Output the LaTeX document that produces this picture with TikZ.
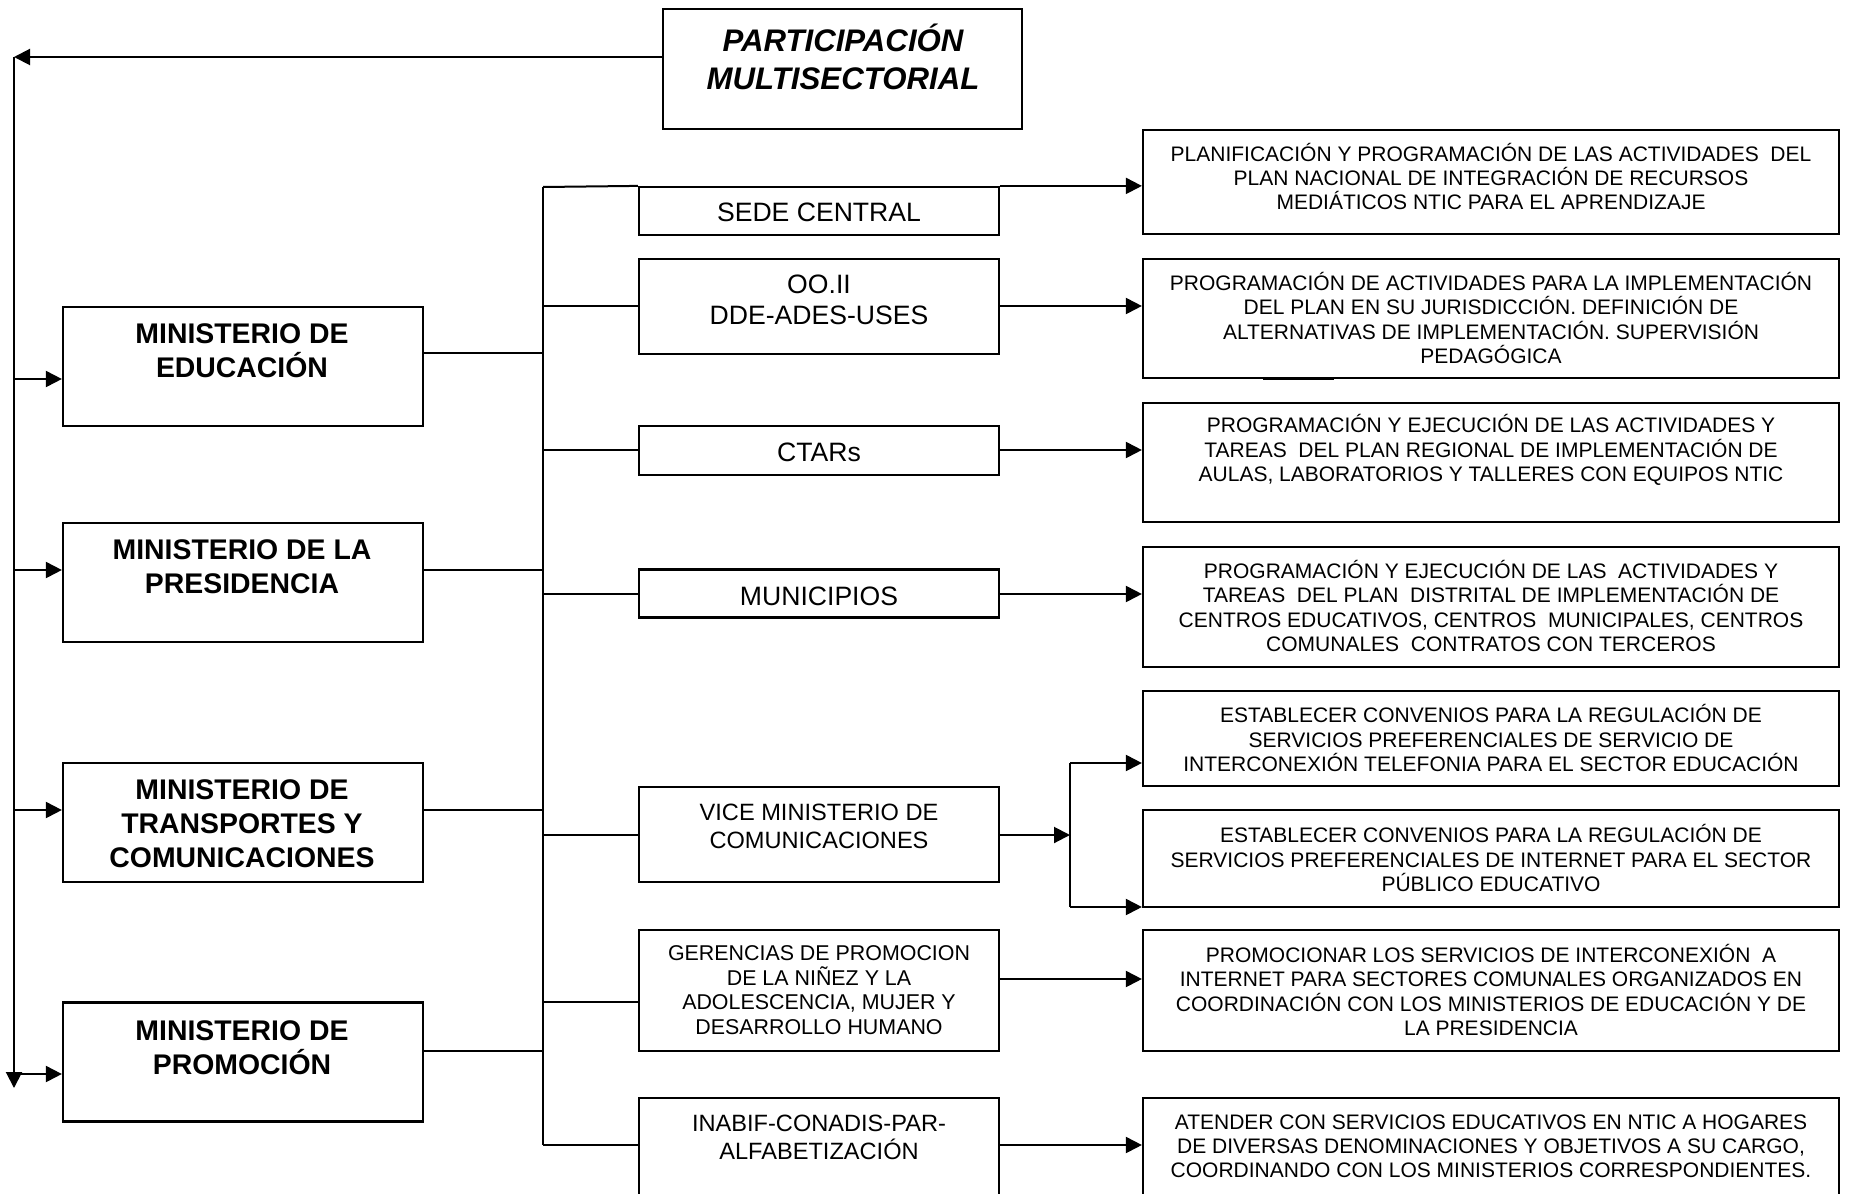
\documentclass[tikz,border=0pt]{standalone}
\usepackage{fontspec}
\setmainfont{Liberation Sans}
\usetikzlibrary{arrows.meta}
\begin{document}
\begin{tikzpicture}[x=0.5pt,y=-0.5pt,
  box/.style={draw, line width=1.1pt, inner sep=0pt},
  minbox/.style={box, minimum width=180pt, minimum height=59.5pt},
  midbox/.style={box, minimum width=180pt},
  rbox/.style={box, minimum width=348pt},
  tpart/.style={align=center, inner sep=0pt, font=\fontsize{15.6}{19}\selectfont\bfseries\itshape},
  tmin/.style={align=center, inner sep=0pt, font=\fontsize{14.2}{17.1}\selectfont\bfseries},
  tmid/.style={align=center, inner sep=0pt, font=\fontsize{13.3}{15.5}\selectfont},
  tmids/.style={align=center, inner sep=0pt, font=\fontsize{11.8}{14}\selectfont},
  tger/.style={align=center, inner sep=0pt, font=\fontsize{10.7}{12.25}\selectfont},
  tr/.style={align=center, inner sep=0pt, font=\fontsize{10.5}{12.1}\selectfont},
  ln/.style={line width=1pt},
  arr/.style={ln, -{Triangle[length=8pt,width=8pt]}}]
\useasboundingbox (0,0) rectangle (1851,1193);
\clip (0,0) rectangle (1851,1193);

% top box
\node[box, minimum width=179.5pt, minimum height=60pt] (part) at (842.5,69) {};
\node[tpart] (partt) at (843,57) {PARTICIPACIÓN\\MULTISECTORIAL};

% ministries
\node[minbox] (edu) at (243,366.5) {};
\node[tmin] (edut) at (242,351) {MINISTERIO DE\\EDUCACIÓN};
\node[minbox] (pres) at (243,582.5) {};
\node[tmin] (prest) at (242,567) {MINISTERIO DE LA\\PRESIDENCIA};
\node[minbox] (trans) at (243,822.5) {};
\node[tmin] (transt) at (242,824) {MINISTERIO DE\\TRANSPORTES Y\\COMUNICACIONES};
\node[minbox] (prom) at (243,1062) {};
\node[tmin] (promt) at (242,1048) {MINISTERIO DE\\PROMOCIÓN};

% middle column
\node[midbox, minimum height=24pt] (sede) at (819,211) {};
\node[tmid] (sedet) at (819,212.5) {SEDE CENTRAL};
\node[midbox, minimum height=47.5pt] (ooii) at (819,306.5) {};
\node[tmid] (ooiit) at (819,300) {OO.II\\DDE-ADES-USES};
\node[midbox, minimum height=24.5pt] (ctar) at (819,450.5) {};
\node[tmid] (ctart) at (819,452) {CTARs};
\node[midbox, minimum height=24pt] (muni) at (819,593.5) {};
\node[tmid] (munit) at (819,596) {MUNICIPIOS};
\node[midbox, minimum height=47.5pt] (vice) at (819,834.5) {};
\node[tmids] (vicet) at (819,826) {VICE MINISTERIO DE\\COMUNICACIONES};
\node[midbox, minimum height=60.5pt] (ger) at (819,990.5) {};
\node[tger] (gert) at (819,990) {GERENCIAS DE PROMOCION\\DE LA NIÑEZ Y LA\\ADOLESCENCIA, MUJER Y\\DESARROLLO HUMANO};
\node[midbox, minimum height=68.5pt] (inab) at (819,1166.5) {};
\node[tmids] (inabt) at (819,1137) {INABIF-CONADIS-PAR-\\ALFABETIZACIÓN};

% right column
\node[rbox, minimum height=52pt] (plan) at (1491,182) {};
\node[tr] (plant) at (1491,176.5) {PLANIFICACIÓN Y PROGRAMACIÓN DE LAS ACTIVIDADES\ \ DEL\\PLAN NACIONAL DE INTEGRACIÓN DE RECURSOS\\MEDIÁTICOS NTIC PARA EL APRENDIZAJE};
\node[rbox, minimum height=59.5pt] (prog) at (1491,318.5) {};
\node[tr] (progt) at (1491,318) {PROGRAMACIÓN DE ACTIVIDADES PARA LA IMPLEMENTACIÓN\\DEL PLAN EN SU JURISDICCIÓN. DEFINICIÓN DE\\ALTERNATIVAS DE IMPLEMENTACIÓN. SUPERVISIÓN\\PEDAGÓGICA};
\node[rbox, minimum height=59.5pt] (reg) at (1491,462.5) {};
\node[tr] (regt) at (1491,450) {PROGRAMACIÓN Y EJECUCIÓN DE LAS ACTIVIDADES Y\\TAREAS\ \ DEL PLAN REGIONAL DE IMPLEMENTACIÓN DE\\AULAS, LABORATORIOS Y TALLERES CON EQUIPOS NTIC};
\node[rbox, minimum height=60pt] (dist) at (1491,607) {};
\node[tr] (distt) at (1491,606) {PROGRAMACIÓN Y EJECUCIÓN DE LAS\ \ ACTIVIDADES Y\\TAREAS\ \ DEL PLAN\ \ DISTRITAL DE IMPLEMENTACIÓN DE\\CENTROS EDUCATIVOS, CENTROS\ \ MUNICIPALES, CENTROS\\COMUNALES\ \ CONTRATOS CON TERCEROS};
\node[rbox, minimum height=47.5pt] (esta) at (1491,738.5) {};
\node[tr] (estat) at (1491,738) {ESTABLECER CONVENIOS PARA LA REGULACIÓN DE\\SERVICIOS PREFERENCIALES DE SERVICIO DE\\INTERCONEXIÓN TELEFONIA PARA EL SECTOR EDUCACIÓN};
\node[rbox, minimum height=48.5pt] (estb) at (1491,858.5) {};
\node[tr] (estbt) at (1491,858) {ESTABLECER CONVENIOS PARA LA REGULACIÓN DE\\SERVICIOS PREFERENCIALES DE INTERNET PARA EL SECTOR\\PÚBLICO EDUCATIVO};
\node[rbox, minimum height=60.5pt] (promo) at (1491,990.5) {};
\node[tr] (promot) at (1491,990) {PROMOCIONAR LOS SERVICIOS DE INTERCONEXIÓN\ \ A\\INTERNET PARA SECTORES COMUNALES ORGANIZADOS EN\\COORDINACIÓN CON LOS MINISTERIOS DE EDUCACIÓN Y DE\\LA PRESIDENCIA};
\node[rbox, minimum height=68.5pt] (aten) at (1491,1166.5) {};
\node[tr] (atent) at (1491,1146) {ATENDER CON SERVICIOS EDUCATIVOS EN NTIC A HOGARES\\DE DIVERSAS DENOMINACIONES Y OBJETIVOS A SU CARGO,\\COORDINANDO CON LOS MINISTERIOS CORRESPONDIENTES.};

% left distribution line
\coordinate (L0) at (14,57);
\coordinate (L1) at (14,1088);
\coordinate (La) at (14,379);
\coordinate (Lb) at (14,570);
\coordinate (Lc) at (14,810);
\coordinate (Ld) at (14,1074);
\draw[arr] (part.west |- L0) -- (L0);
\draw[arr] (L0) -- (L1);
\draw[arr] (La) -- (edu.west |- La);
\draw[arr] (Lb) -- (pres.west |- Lb);
\draw[arr] (Lc) -- (trans.west |- Lc);
\draw[arr] (Ld) -- (prom.west |- Ld);

% bus
\coordinate (B0) at (543,187);
\coordinate (B1) at (543,1145);
\coordinate (Ma) at (543,353);
\coordinate (Mb) at (543,570);
\coordinate (Mc) at (543,810);
\coordinate (Md) at (543,1051);
\draw[ln] (B0) -- (B1);
\draw[ln] (edu.east |- Ma) -- (Ma);
\draw[ln] (pres.east |- Mb) -- (Mb);
\draw[ln] (trans.east |- Mc) -- (Mc);
\draw[ln] (prom.east |- Md) -- (Md);

% bus to middle boxes
\coordinate (Ca) at (543,306);
\coordinate (Cb) at (543,450);
\coordinate (Cc) at (543,594);
\coordinate (Cd) at (543,835);
\coordinate (Ce) at (543,1002);
\draw[ln] (B0) -- (sede.north west);
\draw[ln] (Ca) -- (ooii.west |- Ca);
\draw[ln] (Cb) -- (ctar.west |- Cb);
\draw[ln] (Cc) -- (muni.west |- Cc);
\draw[ln] (Cd) -- (vice.west |- Cd);
\draw[ln] (Ce) -- (ger.west |- Ce);
\draw[ln] (B1) -- (inab.west |- B1);

% middle to right boxes
\draw[arr] (sede.north east) -- (plan.west |- sede.north);
\draw[arr] (ooii.east |- Ca) -- (prog.west |- Ca);
\draw[arr] (ctar.east |- Cb) -- (reg.west |- Cb);
\draw[arr] (muni.east |- Cc) -- (dist.west |- Cc);
\coordinate (V0) at (1070,835);
\coordinate (V1) at (1070,763);
\coordinate (V2) at (1070,907);
\draw[arr] (vice.east |- V0) -- (V0);
\draw[ln] (V1) -- (V2);
\draw[arr] (V1) -- (esta.west |- V1);
\draw[arr] (V2) -- (estb.west |- V2);
\coordinate (G0) at (999,979);
\draw[arr] (ger.east |- G0) -- (promo.west |- G0);
\draw[arr] (inab.east |- B1) -- (aten.west |- B1);

% small stray mark below second right box
\draw[line width=1.5pt] (1263,378) -- (1334,378);
\end{tikzpicture}
\end{document}
